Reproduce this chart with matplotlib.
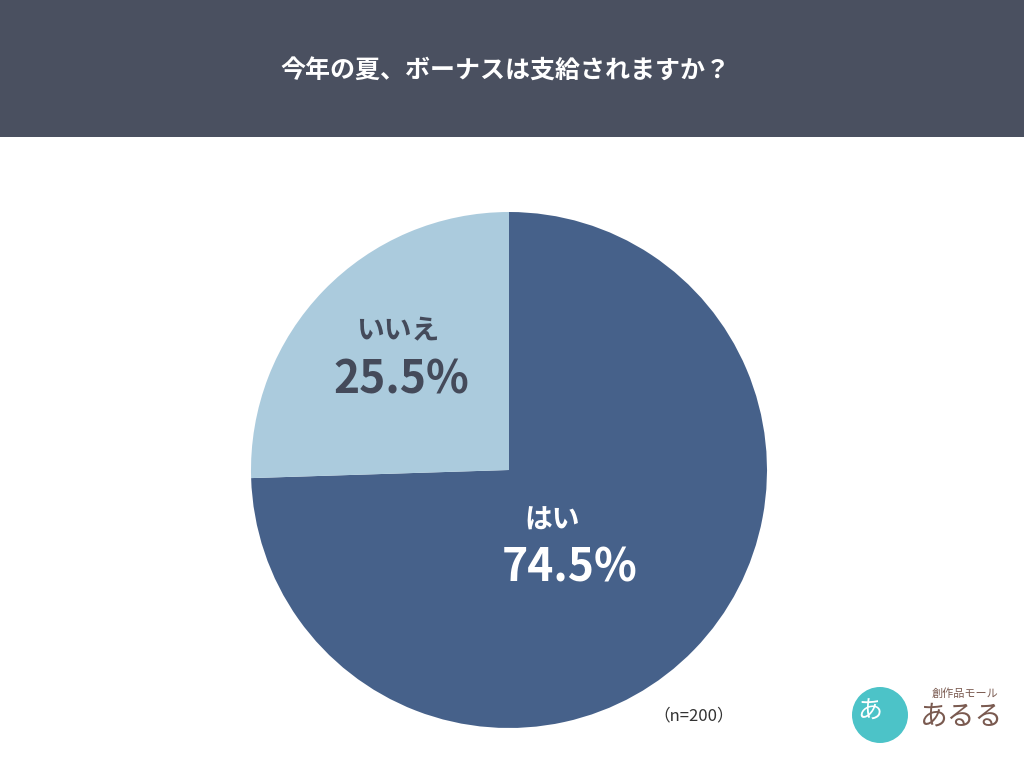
import matplotlib
matplotlib.use("Agg")
import matplotlib.pyplot as plt
from matplotlib.patches import Rectangle, Ellipse

plt.rcParams['font.family'] = ['Noto Sans CJK JP', 'DejaVu Sans']

title = "今年の夏、ボーナスは支給されますか？"
labels = ["はい", "いいえ"]
values = [74.5, 25.5]
colors = ["#46618a", "#abcbdd"]
note = "（n=200）"

W, H = 1024, 768
fig = plt.figure(figsize=(W/100, H/100), dpi=100)
fig.patch.set_facecolor("white")

def px(x, y):
    return x / W, 1 - y / H

fig.patches.append(Rectangle((0, 1 - 137/H), 1, 137/H, transform=fig.transFigure,
                             facecolor="#4a5060", edgecolor="none"))
fig.text(*px(505, 72), title, color="white", fontsize=18, fontweight="bold",
         ha="center", va="center")

cx, cy, r = 509, 470, 258
ax = fig.add_axes([(cx - r)/W, 1 - (cy + r)/H, 2*r/W, 2*r/H])
ax.pie(values, colors=colors, startangle=90, counterclock=False,
       wedgeprops=dict(edgecolor="none"))
ax.set_xlim(-1, 1)
ax.set_ylim(-1, 1)
ax.set_aspect("equal")
ax.axis("off")

fig.text(*px(552, 521), labels[0], color="white", fontsize=20, fontweight="bold", ha="center", va="center")
fig.text(*px(570, 568), f"{values[0]}%", color="white", fontsize=32, fontweight="bold", ha="center", va="center")
fig.text(*px(398, 331), labels[1], color="#444a5a", fontsize=20, fontweight="bold", ha="center", va="center")
fig.text(*px(401, 381), f"{values[1]}%", color="#444a5a", fontsize=32, fontweight="bold", ha="center", va="center")
fig.text(*px(694, 716), note, color="#333333", fontsize=12, ha="center", va="center")

# logo approximation
fig.patches.append(Ellipse(px(880, 715), 56/W, 56/H, transform=fig.transFigure,
                           facecolor="#4cc3c8", edgecolor="none"))
fig.text(*px(870, 712), "あ", color="white", fontsize=18, ha="center", va="center")
fig.text(*px(965, 694), "創作品モール", color="#7a5a50", fontsize=8, ha="center", va="center")
fig.text(*px(962, 717), "あるる", color="#7a5a50", fontsize=20, ha="center", va="center")

fig.savefig("out.png", dpi=100)
